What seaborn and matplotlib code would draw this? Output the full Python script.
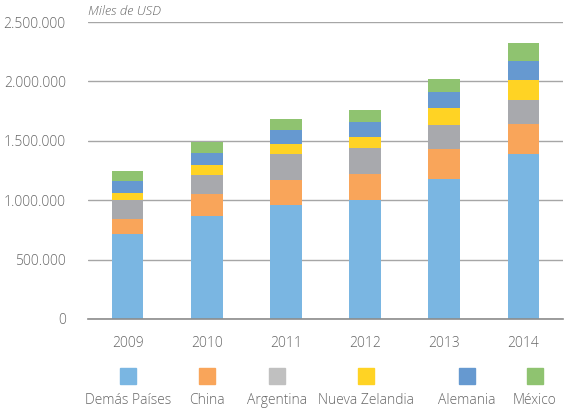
import numpy as np
import pandas as pd
import matplotlib
matplotlib.use("Agg")
import matplotlib.pyplot as plt
import seaborn as sns
from matplotlib.patches import Rectangle
from matplotlib.ticker import FuncFormatter

years = ["2009", "2010", "2011", "2012", "2013", "2014"]
series = ["Demás Países", "China", "Argentina", "Nueva Zelandia", "Alemania", "México"]
demas = [714000, 871000, 958000, 1000000, 1176000, 1387000]
china = [126000, 179000, 210000, 218000, 253000, 252000]
argentina = [160000, 160000, 219000, 219000, 201000, 201000]
nueva_zelandia = [59000, 84000, 83000, 92000, 150000, 168000]
alemania = [101000, 101000, 120000, 126000, 127000, 160000]
mexico = [84000, 95000, 90000, 101000, 110000, 152000]
colors = ["#7AB6E2", "#F9A55A", "#A8A9AD", "#FFD324", "#6699D0", "#8FC370"]
legend_colors = ["#7AB6E2", "#F9A55A", "#C0C0C0", "#FFD324", "#6699D0", "#8FC370"]

values = [demas, china, argentina, nueva_zelandia, alemania, mexico]
cum = np.cumsum(np.array(values), axis=0)

sns.set_theme(style="white")
plt.rcParams["font.family"] = ["Open Sans", "DejaVu Sans"]
text_color = "#666666"

fig = plt.figure(figsize=(5.69, 4.08), dpi=100)
ax = fig.add_axes([88/569, 1-319/408, (563-88)/569, (319-22)/408])

for i in range(len(series) - 1, -1, -1):
    df = pd.DataFrame({"year": years, "value": cum[i]})
    sns.barplot(data=df, x="year", y="value", color=colors[i], width=0.4,
                saturation=1, ax=ax, zorder=3, linewidth=0)

ax.set_ylim(0, 2500000)
ax.set_xlim(-0.5, 5.5)
ax.set_yticks(np.arange(0, 2500001, 500000))
ax.yaxis.set_major_formatter(FuncFormatter(lambda v, p: f"{int(v):,}".replace(",", ".")))
ax.grid(axis="y", color="#A6A6A6", linewidth=1, zorder=0)
ax.set_axisbelow(True)
for s in ["top", "right", "left"]:
    ax.spines[s].set_visible(False)
ax.spines["bottom"].set_color("#8C8C8C")
ax.spines["bottom"].set_linewidth(1.2)
ax.spines["bottom"].set_zorder(4)
ax.set_xlabel("")
ax.set_ylabel("")
ax.tick_params(axis="y", length=0, pad=16, labelsize=10, labelcolor=text_color)
ax.tick_params(axis="x", which="major", length=0, pad=12, labelsize=10, labelcolor=text_color)
ax.set_xticks(np.arange(-0.5, 6, 1), minor=True)
ax.tick_params(axis="x", which="minor", direction="in", length=6, color="#8C8C8C", width=1.2)
for lbl in ax.get_xticklabels() + ax.get_yticklabels():
    lbl.set_fontweight("light")

ax.text(0, 1.012, "Miles de USD", transform=ax.transAxes, ha="left", va="bottom",
        fontsize=9.5, style="italic", color=text_color, fontweight="light")

# legend below
leg_x = [128, 207, 277, 366, 467, 535]
for name, c, xc in zip(series, legend_colors, leg_x):
    w, h = 16/569, 16/408
    fig.patches.append(Rectangle((xc/569 - w/2, 1 - 384/408), w, h,
                                 transform=fig.transFigure, color=c, figure=fig))
    fig.text(xc/569, 1 - 401/408, name, ha="center", va="center", fontsize=10,
             color=text_color, fontweight="light")

fig.savefig("out.png", dpi=100)
